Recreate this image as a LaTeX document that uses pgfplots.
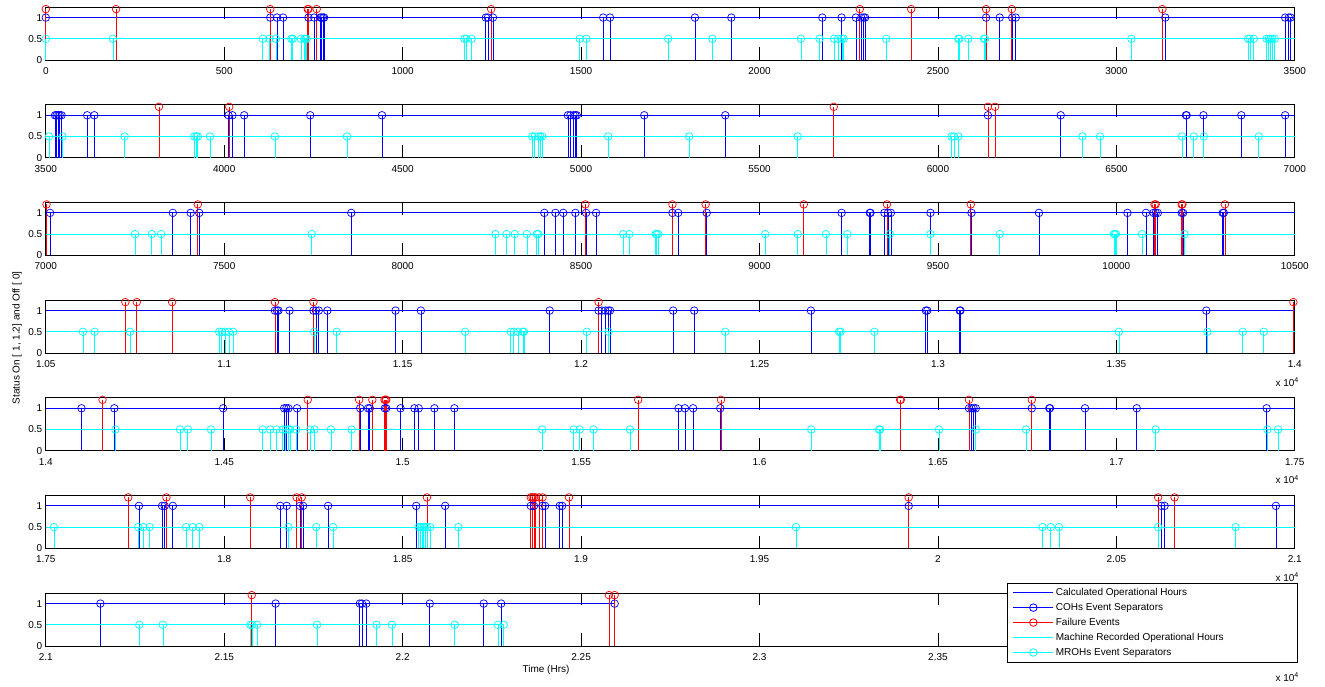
\documentclass[border=0pt]{standalone}
\usepackage{fontspec}
\setmainfont{Liberation Sans}
\usepackage{pgfplots}
\pgfplotsset{compat=1.18}
\usepackage{pgfplotstable}
\definecolor{mblue}{rgb}{0,0,1}
\definecolor{mred}{rgb}{1,0,0}
\definecolor{mcyan}{rgb}{0,1,1}

\pgfplotstableread[row sep=\\]{
x y\\
0 1.2\\ 197 1.2\\ 629 1.2\\ 734 1.2\\ 736 1.2\\ 759 1.2\\ 1248 1.2\\
2281 1.2\\ 2425 1.2\\ 2635 1.2\\ 2707 1.2\\ 3129 1.2\\
3817 1.2\\ 4014 1.2\\ 5708 1.2\\ 6140 1.2\\ 6160 1.2\\
7002 1.2\\ 7426 1.2\\ 8512 1.2\\ 8756 1.2\\ 8849 1.2\\ 9124 1.2\\ 9357 1.2\\ 9592 1.2\\ 10107 1.2\\ 10110 1.2\\ 10183 1.2\\ 10185 1.2\\ 10304 1.2\\
10723 1.2\\ 10755 1.2\\ 10854 1.2\\ 11142 1.2\\ 11250 1.2\\ 12049 1.2\\ 13996 1.2\\
14159 1.2\\ 14734 1.2\\ 14878 1.2\\ 14915 1.2\\ 14949 1.2\\ 14952 1.2\\ 14954 1.2\\ 15660 1.2\\ 15892 1.2\\ 16394 1.2\\ 16396 1.2\\ 16587 1.2\\ 16763 1.2\\
17731 1.2\\ 17838 1.2\\ 18073 1.2\\ 18203 1.2\\ 18217 1.2\\ 18568 1.2\\ 18859 1.2\\ 18864 1.2\\ 18868 1.2\\ 18873 1.2\\ 18882 1.2\\ 18892 1.2\\ 18966 1.2\\ 19918 1.2\\ 20617 1.2\\ 20663 1.2\\
21577 1.2\\ 22578 1.2\\ 22594 1.2\\
}\reddata

\pgfplotstableread[row sep=\\]{
x y\\
0 1\\ 629 1\\ 648 1\\ 665 1\\ 736 1\\ 752 1\\ 769 1\\ 773 1\\ 777 1\\ 780 1\\ 1233 1\\ 1239 1\\ 1253 1\\ 1562 1\\ 1581 1\\
1819 1\\ 1921 1\\ 2176 1\\ 2230 1\\ 2270 1\\ 2285 1\\ 2292 1\\ 2296 1\\ 2635 1\\ 2673 1\\ 2708 1\\ 2718 1\\ 3137 1\\ 3473 1\\ 3483 1\\ 3488 1\\
3526 1\\ 3530 1\\ 3535 1\\ 3539 1\\ 3544 1\\ 3616 1\\ 3636 1\\ 4012 1\\ 4023 1\\ 4056 1\\ 4241 1\\ 4442 1\\ 4963 1\\ 4970 1\\ 4979 1\\ 4984 1\\ 4988 1\\ 5177 1\\
5404 1\\ 6140 1\\ 6344 1\\ 6695 1\\ 6697 1\\ 6744 1\\ 6850 1\\ 6973 1\\
7012 1\\ 7356 1\\ 7406 1\\ 7430 1\\ 7856 1\\ 8397 1\\ 8428 1\\ 8450 1\\ 8484 1\\ 8514 1\\ 8542 1\\ 8756 1\\ 8772 1\\ 8852 1\\
9230 1\\ 9309 1\\ 9311 1\\ 9350 1\\ 9360 1\\ 9368 1\\ 9479 1\\ 9594 1\\ 9783 1\\ 10031 1\\ 10083 1\\ 10104 1\\ 10110 1\\ 10116 1\\ 10183 1\\ 10187 1\\ 10298 1\\ 10301 1\\
11142 1\\ 11148 1\\ 11152 1\\ 11183 1\\ 11250 1\\ 11257 1\\ 11265 1\\ 11289 1\\ 11480 1\\ 11551 1\\ 11912 1\\ 12049 1\\ 12058 1\\ 12068 1\\ 12076 1\\ 12081 1\\ 12258 1\\
12317 1\\ 12644 1\\ 12966 1\\ 12970 1\\ 13061 1\\ 13063 1\\ 13752 1\\
14100 1\\ 14192 1\\ 14497 1\\ 14668 1\\ 14674 1\\ 14680 1\\ 14704 1\\ 14881 1\\ 14903 1\\ 14908 1\\ 14950 1\\ 14954 1\\ 14994 1\\ 15033 1\\ 15045 1\\ 15089 1\\ 15145 1\\
15773 1\\ 15791 1\\ 15814 1\\ 15890 1\\ 16587 1\\ 16594 1\\ 16600 1\\ 16606 1\\ 16763 1\\ 16812 1\\ 16814 1\\ 16912 1\\ 17057 1\\ 17421 1\\
17761 1\\ 17826 1\\ 17833 1\\ 17856 1\\ 18157 1\\ 18175 1\\ 18212 1\\ 18221 1\\ 18291 1\\ 18538 1\\ 18619 1\\ 18859 1\\ 18868 1\\ 18892 1\\ 18899 1\\ 18940 1\\ 18947 1\\
19918 1\\ 20626 1\\ 20635 1\\ 20947 1\\
21153 1\\ 21644 1\\ 21880 1\\ 21886 1\\ 21898 1\\ 22076 1\\ 22227 1\\ 22276 1\\ 22594 1\\
}\bluedata

\pgfplotstableread[row sep=\\]{
x y\\
0 0.5\\ 188 0.5\\ 608 0.5\\ 627 0.5\\ 645 0.5\\ 688 0.5\\ 692 0.5\\ 715 0.5\\ 724 0.5\\ 728 0.5\\ 731 0.5\\ 1173 0.5\\ 1179 0.5\\ 1193 0.5\\ 1496 0.5\\ 1515 0.5\\
1744 0.5\\ 1868 0.5\\ 2116 0.5\\ 2168 0.5\\ 2209 0.5\\ 2220 0.5\\ 2231 0.5\\ 2236 0.5\\ 2355 0.5\\ 2557 0.5\\ 2560 0.5\\ 2585 0.5\\ 2629 0.5\\ 2632 0.5\\ 3042 0.5\\
3369 0.5\\ 3374 0.5\\ 3385 0.5\\ 3421 0.5\\ 3427 0.5\\ 3432 0.5\\ 3437 0.5\\ 3444 0.5\\
3509 0.5\\ 3547 0.5\\ 3721 0.5\\ 3916 0.5\\ 3922 0.5\\ 3926 0.5\\ 3960 0.5\\ 4142 0.5\\ 4344 0.5\\ 4863 0.5\\ 4870 0.5\\ 4880 0.5\\ 4886 0.5\\ 4891 0.5\\ 5076 0.5\\
5303 0.5\\ 5607 0.5\\ 6038 0.5\\ 6045 0.5\\ 6057 0.5\\ 6405 0.5\\ 6454 0.5\\ 6684 0.5\\ 6717 0.5\\ 6745 0.5\\ 6899 0.5\\
7250 0.5\\ 7297 0.5\\ 7323 0.5\\ 7745 0.5\\ 8260 0.5\\ 8291 0.5\\ 8314 0.5\\ 8348 0.5\\ 8376 0.5\\ 8380 0.5\\ 8618 0.5\\ 8635 0.5\\ 8709 0.5\\ 8712 0.5\\ 8716 0.5\\
9016 0.5\\ 9107 0.5\\ 9186 0.5\\ 9246 0.5\\ 9365 0.5\\ 9479 0.5\\ 9673 0.5\\ 9993 0.5\\ 9996 0.5\\ 9999 0.5\\ 10072 0.5\\ 10191 0.5\\
10604 0.5\\ 10637 0.5\\ 10736 0.5\\ 10986 0.5\\ 10993 0.5\\ 11002 0.5\\ 11013 0.5\\ 11025 0.5\\ 11252 0.5\\ 11315 0.5\\ 11675 0.5\\ 11803 0.5\\ 11811 0.5\\ 11823 0.5\\ 11837 0.5\\ 11840 0.5\\
12016 0.5\\ 12077 0.5\\ 12404 0.5\\ 12723 0.5\\ 12727 0.5\\ 12822 0.5\\ 13507 0.5\\ 13755 0.5\\ 13854 0.5\\ 13913 0.5\\
14195 0.5\\ 14376 0.5\\ 14398 0.5\\ 14463 0.5\\ 14608 0.5\\ 14629 0.5\\ 14647 0.5\\ 14664 0.5\\ 14672 0.5\\ 14680 0.5\\ 14684 0.5\\ 14702 0.5\\ 14741 0.5\\ 14753 0.5\\ 14799 0.5\\ 14857 0.5\\
15391 0.5\\ 15479 0.5\\ 15496 0.5\\ 15535 0.5\\ 15637 0.5\\ 16145 0.5\\ 16335 0.5\\ 16338 0.5\\ 16503 0.5\\ 16606 0.5\\ 16747 0.5\\ 17110 0.5\\ 17423 0.5\\ 17453 0.5\\
17523 0.5\\ 17759 0.5\\ 17773 0.5\\ 17791 0.5\\ 17893 0.5\\ 17912 0.5\\ 17930 0.5\\ 18180 0.5\\ 18258 0.5\\ 18305 0.5\\ 18545 0.5\\ 18550 0.5\\ 18554 0.5\\ 18559 0.5\\ 18563 0.5\\ 18568 0.5\\ 18577 0.5\\ 18656 0.5\\
19602 0.5\\ 20293 0.5\\ 20316 0.5\\ 20339 0.5\\ 20617 0.5\\ 20834 0.5\\
21262 0.5\\ 21328 0.5\\ 21573 0.5\\ 21578 0.5\\ 21592 0.5\\ 21760 0.5\\ 21927 0.5\\ 21970 0.5\\ 22146 0.5\\ 22267 0.5\\ 22283 0.5\\
}\cyandata

\newcommand{\fnt}{\fontsize{10}{12}\selectfont}

\pgfplotsset{
  panel/.style={
    width=1249pt, height=53pt, scale only axis, anchor=south west,
    ymin=0, ymax=1.25, ytick={0,0.5,1}, yticklabels={0,0.5,1},
    scaled x ticks=false,
    xtick pos=both, ytick pos=left, tick align=inside,
    major tick length=12.5pt,
    ytick style={draw=none},
    xtick style={black, line width=0.7pt},
    axis line style={black, line width=0.7pt},
    tick label style={font=\fnt},
    xticklabel style={yshift=-4pt},
    clip=false,
  },
  stem/.style={ycomb, mark=o, mark size=3.8pt, line width=0.7pt, mark options={line width=0.7pt}},
  hline/.style={line width=0.8pt},
  legend image code/.code={\draw[mark repeat=2,mark phase=2,#1] plot coordinates {(0pt,0pt) (20pt,0pt) (40pt,0pt)};},
}

% #1 xmin, #2 xmax, #3 bottom, #4 ticks, #5 labels, #6 blue end, #7 cyan end
\newcommand{\panel}[7]{%
\begin{axis}[panel, at={(45.8pt,#3)}, xmin=#1, xmax=#2, xtick={#4}, xticklabels={#5},
  restrict x to domain=#1:#2]
\addplot[mblue, hline] coordinates {(#1,1) (#6,1)};
\addplot[mblue, stem] table[x=x,y=y] {\bluedata};
\addplot[mred, stem] table[x=x,y=y] {\reddata};
\addplot[mcyan, hline] coordinates {(#1,0.5) (#7,0.5)};
\addplot[mcyan, stem] table[x=x,y=y] {\cyandata};
\end{axis}}

\begin{document}
\begin{tikzpicture}
\path[use as bounding box] (0,0) rectangle (1325pt,687pt);

\panel{0}{3500}{627pt}{0,500,...,3500}{0,500,1000,1500,2000,2500,3000,3500}{3500}{3500}
\panel{3500}{7000}{529.3pt}{3500,4000,...,7000}{3500,4000,4500,5000,5500,6000,6500,7000}{7000}{7000}
\panel{7000}{10500}{431.7pt}{7000,7500,...,10500}{7000,7500,8000,8500,9000,9500,10000,10500}{10500}{10500}
\panel{10500}{14000}{334pt}{10500,11000,...,14000}{1.05,1.1,1.15,1.2,1.25,1.3,1.35,1.4}{14000}{14000}
\panel{14000}{17500}{236.3pt}{14000,14500,...,17500}{1.4,1.45,1.5,1.55,1.6,1.65,1.7,1.75}{17500}{17500}
\panel{17500}{21000}{138.7pt}{17500,18000,...,21000}{1.75,1.8,1.85,1.9,1.95,2,2.05,2.1}{21000}{21000}

\begin{axis}[panel, at={(45.8pt,41pt)}, xmin=21000, xmax=24500,
  xtick={21000,21500,...,24500}, xticklabels={2.1,2.15,2.2,2.25,2.3,2.35,{},{}},
  restrict x to domain=21000:24500,
  legend cell align=left,
  legend style={at={(1.0018,1.1887)}, anchor=north east, font=\fnt, draw=black, fill=white,
    inner xsep=6pt, inner ysep=2pt, row sep=0pt, nodes={inner ysep=3.15pt}}]
\addplot[mblue, hline, forget plot] coordinates {(21000,1) (22594,1)};
\addplot[mblue, stem, forget plot] table[x=x,y=y] {\bluedata};
\addplot[mred, stem, forget plot] table[x=x,y=y] {\reddata};
\addplot[mcyan, hline, forget plot] coordinates {(21000,0.5) (22283,0.5)};
\addplot[mcyan, stem, forget plot] table[x=x,y=y] {\cyandata};
\addlegendimage{mblue, line width=1pt}
\addlegendentry{\makebox[233pt][l]{Calculated Operational Hours}}
\addlegendimage{mblue, line width=0.8pt, mark=o, mark size=3.8pt}
\addlegendentry{COHs Event Separators}
\addlegendimage{mred, line width=0.8pt, mark=o, mark size=3.8pt}
\addlegendentry{Failure Events}
\addlegendimage{mcyan, line width=1pt}
\addlegendentry{Machine Recorded Operational Hours}
\addlegendimage{mcyan, line width=0.8pt, mark=o, mark size=3.8pt}
\addlegendentry{MROHs Event Separators}
\end{axis}

\node[anchor=east, font=\fnt, inner sep=0pt] at (1299pt,305pt) {x 10\textsuperscript{4}};
\node[anchor=east, font=\fnt, inner sep=0pt] at (1299pt,207.3pt) {x 10\textsuperscript{4}};
\node[anchor=east, font=\fnt, inner sep=0pt] at (1299pt,109.7pt) {x 10\textsuperscript{4}};
\node[anchor=east, font=\fnt, inner sep=0pt] at (1299pt,10pt) {x 10\textsuperscript{4}};

\node[rotate=90, font=\fnt] at (17pt,349pt) {Status On [ 1, 1.2] and Off [ 0]};
\node[font=\fnt] at (546pt,17pt) {Time (Hrs)};
\end{tikzpicture}
\end{document}
